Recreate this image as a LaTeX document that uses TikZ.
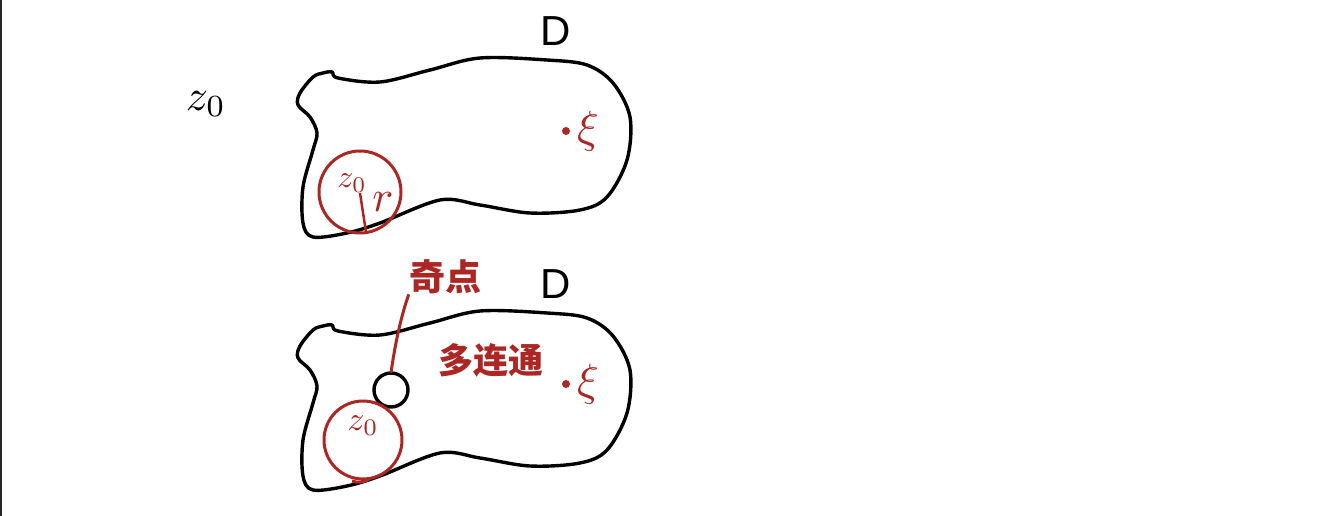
\documentclass[tikz,border=0pt]{standalone}
\usepackage{fontspec}
\newfontfamily\cjk{Noto Sans CJK SC}
\setsansfont{Liberation Sans}
\definecolor{sred}{RGB}{172,38,36}
\begin{document}
\begin{tikzpicture}[x=1pt,y=-1pt,
  blob/.style={line width=3.4pt,line join=round},
  redline/.style={sred,line width=3pt},
  lbl/.style={inner sep=0pt},
  ]
\useasboundingbox[fill=white] (0,0) rectangle (1331,516);
\draw[line width=2pt,black!85] (0.8,0) -- (0.8,516);
% black z0
\node[lbl] (zz) at (206,104) {\scalebox{4.4}{$z_0$}};
% blobs
\foreach \dy/\nm in {0/a,253/b}{
\begin{scope}[yshift=-\dy]
\draw[blob] plot[smooth cycle,tension=0.55] coordinates {
(323,73) (332,72) (338,78) (380,82) (430,70) (480,58) (547,60) (587,65)
(613,83) (630,117) (627,160) (607,197) (580,210) (530,213) (480,205)
(440,200) (380,223) (347,233) (313,237) (303,223) (303,187) (313,150)
(317,133) (310,117) (298,105) (300,93) (313,77)};
\node[lbl,font=\sffamily\fontsize{42}{42}\selectfont] (D\nm) at (556,31) {D};
\fill[sred] (566,131) circle (4);
\node[lbl,sred] (xi\nm) at (588,131) {\scalebox{4.5}{$\xi$}};
\end{scope}}
% top red circle
\draw[redline] (360,192) circle (41);
\node[lbl,sred] (z0a) at (352,183) {\scalebox{3.2}{$z_0$}};
\node[lbl,sred] (ra) at (383,202) {\scalebox{4.4}{$r$}};
\coordinate (ca) at (360,193);
\coordinate (ea) at (366,232);
\draw[sred,line width=2.5pt] (ca) -- (ea);
% bottom
\draw[line width=3.4pt] (391,390) circle (17);
\node[circle,minimum size=34pt,inner sep=0pt] (sing) at (391,390) {};
\draw[redline] (363,440) circle (39);
\draw[redline] (352,481) arc[start angle=110,end angle=60,radius=20];
\node[lbl,sred] (z0b) at (363,426) {\scalebox{3.4}{$z_0$}};
\node[lbl,sred,font=\cjk\bfseries\fontsize{36}{36}\selectfont] (qd) at (445,277) {奇点};
\node[lbl,sred,font=\cjk\bfseries\fontsize{35}{35}\selectfont] (dlt) at (491,360) {多连通};
\draw[redline] (sing.north) .. controls (397,330) and (405,305) .. (qd.south west);
\end{tikzpicture}
\end{document}
